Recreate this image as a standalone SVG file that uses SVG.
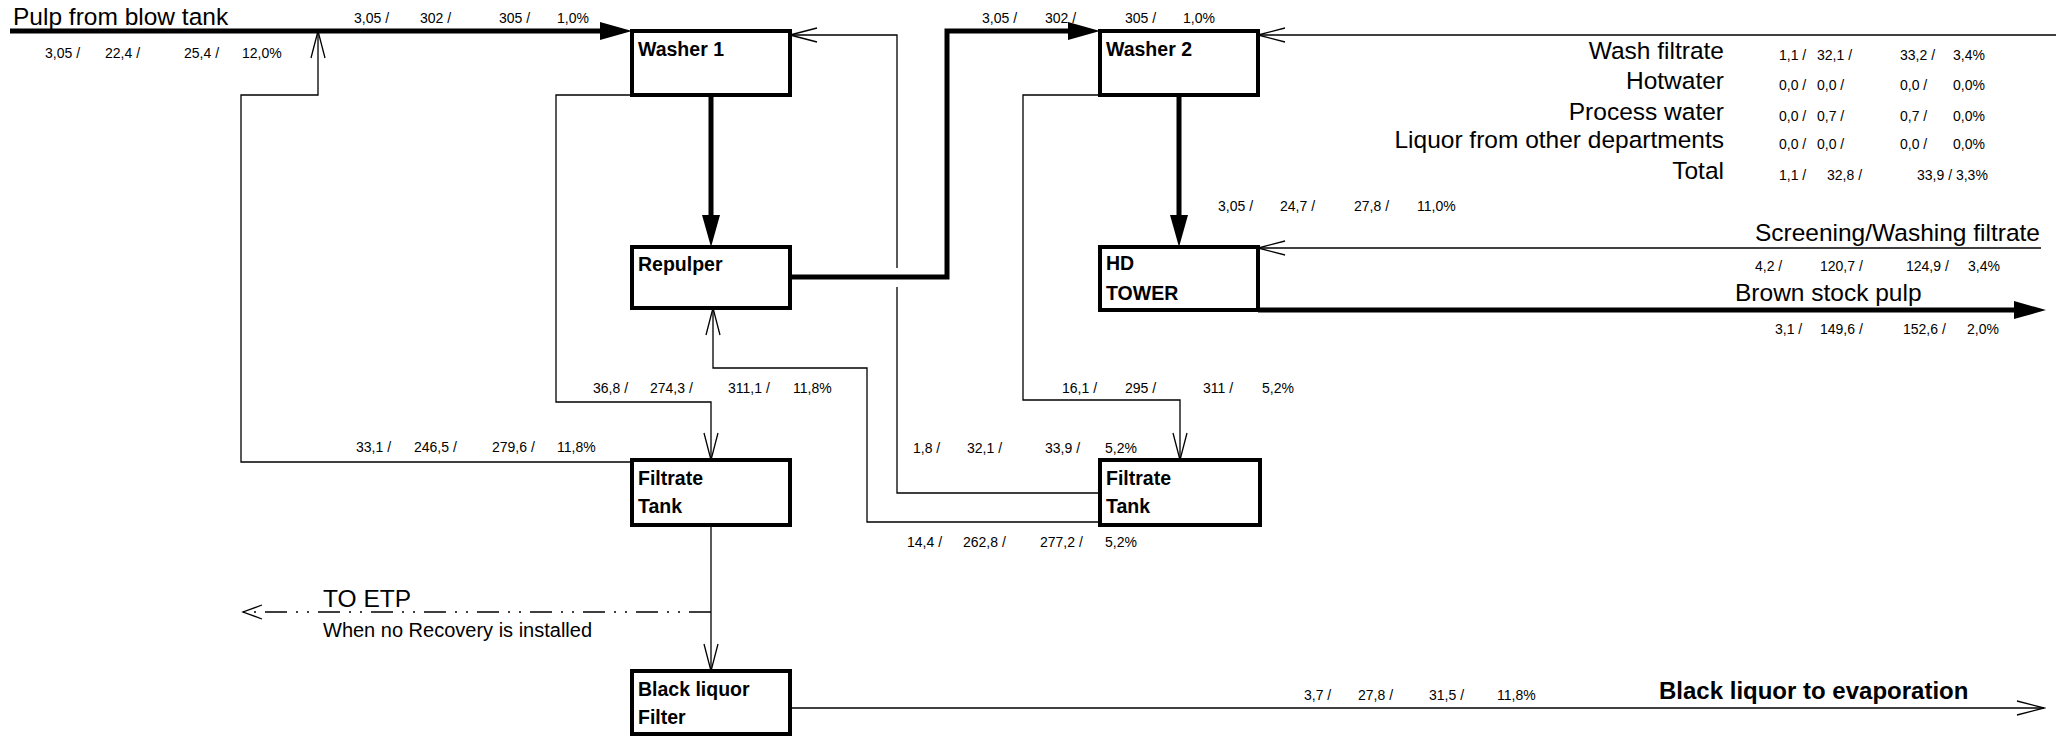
<svg xmlns="http://www.w3.org/2000/svg" width="2056" height="738" viewBox="0 0 2056 738">
<style>
text{font-family:'Liberation Sans',Arial,sans-serif;fill:#000}
.n{font-size:14px}
.lb{font-size:24.5px}
.et{font-size:20px}
.bx{font-size:19.5px;font-weight:bold}
.bl{font-size:24px;font-weight:bold}
.box{fill:#fff;stroke:#000;stroke-width:4}
.thin{fill:none;stroke:#000;stroke-width:1.3}
.thick{fill:none;stroke:#000;stroke-width:5}
.dash{fill:none;stroke:#000;stroke-width:1.3;stroke-dasharray:22 9 2 9 2 9}
</style>
<defs>
<marker id="op" markerUnits="userSpaceOnUse" viewBox="-30 -10 32 20" markerWidth="32" markerHeight="20" refX="0" refY="0" orient="auto"><path d="M-27,-7 L0,0 L-27,7" fill="none" stroke="#000" stroke-width="1.3"/></marker>
<marker id="fl" markerUnits="userSpaceOnUse" viewBox="-34 -10 36 20" markerWidth="36" markerHeight="20" refX="-12" refY="0" orient="auto"><path d="M-32,-9 L0,0 L-32,9 Z" fill="#000"/></marker>
</defs>
<rect width="2056" height="738" fill="#fff"/>
<g id="connectors">
<path class="thick" d="M10,31 H620" marker-end="url(#fl)"/>
<path class="thick" d="M711,95 V235" marker-end="url(#fl)"/>
<path class="thick" d="M790,277 H947 V31 H1088" marker-end="url(#fl)"/>
<path class="thick" d="M1179,95 V235" marker-end="url(#fl)"/>
<path class="thick" d="M1258,310 H2034" marker-end="url(#fl)"/>
<path class="thin" d="M2056,35 H1258" marker-end="url(#op)"/>
<path class="thin" d="M2041,248 H1258" marker-end="url(#op)"/>
<path class="thin" d="M632,95 H556 V402 H711 V460" marker-end="url(#op)"/>
<path class="thin" d="M632,462 H241 V95 H318 V31" marker-end="url(#op)"/>
<path class="thin" d="M711,525 V671" marker-end="url(#op)"/>
<path class="dash" d="M711,612 H243"/>
<path class="thin" d="M262,605 L243,612 L262,619"/>
<path class="thin" d="M790,708 H2044" marker-end="url(#op)"/>
<path class="thin" d="M1100,493 H897 V287"/>
<path class="thin" d="M897,268 V35 H790" marker-end="url(#op)"/>
<path class="thin" d="M1100,522 H867 V368 H713 V308" marker-end="url(#op)"/>
<path class="thin" d="M1100,95 H1023 V400 H1180 V460" marker-end="url(#op)"/>
</g>
<g id="washer1"><rect class="box" x="632" y="31" width="158" height="64"/><text class="bx" x="638" y="56">Washer 1</text></g>
<g id="repulper"><rect class="box" x="632" y="247" width="158" height="61"/><text class="bx" x="638" y="271">Repulper</text></g>
<g id="filtrate1"><rect class="box" x="632" y="460" width="158" height="65"/><text class="bx" x="638" y="485">Filtrate</text><text class="bx" x="638" y="513">Tank</text></g>
<g id="blfilter"><rect class="box" x="632" y="671" width="158" height="63"/><text class="bx" x="638" y="696">Black liquor</text><text class="bx" x="638" y="724">Filter</text></g>
<g id="washer2"><rect class="box" x="1100" y="31" width="158" height="64"/><text class="bx" x="1106" y="56">Washer 2</text></g>
<g id="hdtower"><rect class="box" x="1100" y="247" width="158" height="63"/><text class="bx" x="1106" y="270">HD</text><text class="bx" x="1106" y="300">TOWER</text></g>
<g id="filtrate2"><rect class="box" x="1100" y="460" width="160" height="65"/><text class="bx" x="1106" y="485">Filtrate</text><text class="bx" x="1106" y="513">Tank</text></g>
<g id="labels">
<text class="lb" x="13" y="25">Pulp from blow tank</text>
<text class="n" x="354" y="23">3,05 /</text><text class="n" x="420" y="23">302 /</text><text class="n" x="499" y="23">305 /</text><text class="n" x="557" y="23">1,0%</text>
<text class="n" x="45" y="58">3,05 /</text><text class="n" x="105" y="58">22,4 /</text><text class="n" x="184" y="58">25,4 /</text><text class="n" x="242" y="58">12,0%</text>
<text class="n" x="982" y="23">3,05 /</text><text class="n" x="1045" y="23">302 /</text><text class="n" x="1125" y="23">305 /</text><text class="n" x="1183" y="23">1,0%</text>
<g text-anchor="end"><text class="lb" x="1724" y="59">Wash filtrate</text><text class="lb" x="1724" y="89">Hotwater</text><text class="lb" x="1724" y="120">Process water</text><text class="lb" x="1724" y="148">Liquor from other departments</text><text class="lb" x="1724" y="179">Total</text></g>
<text class="n" x="1779" y="60">1,1 /</text><text class="n" x="1817" y="60">32,1 /</text><text class="n" x="1900" y="60">33,2 /</text><text class="n" x="1953" y="60">3,4%</text>
<text class="n" x="1779" y="90">0,0 /</text><text class="n" x="1817" y="90">0,0 /</text><text class="n" x="1900" y="90">0,0 /</text><text class="n" x="1953" y="90">0,0%</text>
<text class="n" x="1779" y="121">0,0 /</text><text class="n" x="1817" y="121">0,7 /</text><text class="n" x="1900" y="121">0,7 /</text><text class="n" x="1953" y="121">0,0%</text>
<text class="n" x="1779" y="149">0,0 /</text><text class="n" x="1817" y="149">0,0 /</text><text class="n" x="1900" y="149">0,0 /</text><text class="n" x="1953" y="149">0,0%</text>
<text class="n" x="1779" y="180">1,1 /</text><text class="n" x="1827" y="180">32,8 /</text><text class="n" x="1917" y="180">33,9 / 3,3%</text>
<text class="n" x="1218" y="211">3,05 /</text><text class="n" x="1280" y="211">24,7 /</text><text class="n" x="1354" y="211">27,8 /</text><text class="n" x="1417" y="211">11,0%</text>
<text class="lb" x="2040" y="241" text-anchor="end">Screening/Washing filtrate</text>
<text class="n" x="1755" y="271">4,2 /</text><text class="n" x="1820" y="271">120,7 /</text><text class="n" x="1906" y="271">124,9 /</text><text class="n" x="1968" y="271">3,4%</text>
<text class="lb" x="1735" y="301">Brown stock pulp</text>
<text class="n" x="1775" y="334">3,1 /</text><text class="n" x="1820" y="334">149,6 /</text><text class="n" x="1903" y="334">152,6 /</text><text class="n" x="1967" y="334">2,0%</text>
<text class="n" x="593" y="393">36,8 /</text><text class="n" x="650" y="393">274,3 /</text><text class="n" x="728" y="393">311,1 /</text><text class="n" x="793" y="393">11,8%</text>
<text class="n" x="356" y="452">33,1 /</text><text class="n" x="414" y="452">246,5 /</text><text class="n" x="492" y="452">279,6 /</text><text class="n" x="557" y="452">11,8%</text>
<text class="n" x="1062" y="393">16,1 /</text><text class="n" x="1125" y="393">295 /</text><text class="n" x="1203" y="393">311 /</text><text class="n" x="1262" y="393">5,2%</text>
<text class="n" x="913" y="453">1,8 /</text><text class="n" x="967" y="453">32,1 /</text><text class="n" x="1045" y="453">33,9 /</text><text class="n" x="1105" y="453">5,2%</text>
<text class="n" x="907" y="547">14,4 /</text><text class="n" x="963" y="547">262,8 /</text><text class="n" x="1040" y="547">277,2 /</text><text class="n" x="1105" y="547">5,2%</text>
<text class="lb" x="323" y="607">TO ETP</text>
<text class="et" x="323" y="637">When no Recovery is installed</text>
<text class="n" x="1304" y="700">3,7 /</text><text class="n" x="1358" y="700">27,8 /</text><text class="n" x="1429" y="700">31,5 /</text><text class="n" x="1497" y="700">11,8%</text>
<text class="bl" x="1659" y="699">Black liquor to evaporation</text>
</g>
</svg>
